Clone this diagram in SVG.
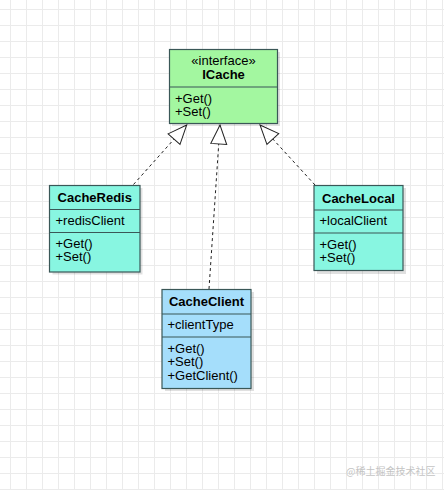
<svg xmlns="http://www.w3.org/2000/svg" width="444" height="490" viewBox="0 0 444 490">
<style>
.t{font-family:"Liberation Sans",Arial,sans-serif;font-size:13px;fill:#000}
.b{font-weight:bold;text-anchor:middle}
.c{text-anchor:middle}
.box{stroke:#3a5757;stroke-width:1.2}
.sh{fill:#000;opacity:0.12}
.div{stroke:#3a5757;stroke-width:1.2;fill:none}
.green{fill:#a3f7a0}
.cyan{fill:#88f6e1}
.blue{fill:#a5defb}
.conn{fill:none;stroke:#222;stroke-width:1;stroke-dasharray:3 3}
.wm{font-family:"Noto Sans CJK SC","Liberation Sans",sans-serif;font-size:10px;fill:#c4c4c4}
</style>
<defs>
<pattern id="grid" x="10" y="9" width="16" height="16" patternUnits="userSpaceOnUse">
<path d="M0 0.5H16M0.5 0V16" stroke="#ebebeb" stroke-width="1" fill="none"/>
</pattern>
<marker id="tri" markerUnits="userSpaceOnUse" markerWidth="22" markerHeight="20" viewBox="0 0 22 20" refX="20" refY="10" orient="auto">
<path d="M1 2L20 10L1 18Z" fill="#fff" stroke="#222" stroke-width="1" stroke-dasharray="none"/>
</marker>
</defs>
<rect width="444" height="490" fill="#fff"/>
<rect width="444" height="490" fill="url(#grid)"/>

<g id="connectors">
<path class="conn" d="M133.5 184.5L186.7 125" marker-end="url(#tri)"/>
<path class="conn" d="M209 289L220 125" marker-end="url(#tri)"/>
<path class="conn" d="M315 185L260 125" marker-end="url(#tri)"/>
</g>

<g id="ICache">
<rect class="sh" x="172" y="52" width="108" height="74"/>
<rect class="box green" x="169.5" y="49.5" width="108" height="74"/>
<line class="div" x1="169.5" y1="87" x2="277.5" y2="87"/>
<text class="t c" x="223.5" y="64.5">«interface»</text>
<text class="t b" x="223.5" y="79">ICache</text>
<text class="t" x="175" y="103">+Get()</text>
<text class="t" x="175" y="116">+Set()</text>
</g>

<g id="CacheRedis">
<rect class="sh" x="52.5" y="188" width="90" height="86.5"/>
<rect class="box cyan" x="49.5" y="185.5" width="90.5" height="86.5"/>
<line class="div" x1="49.5" y1="209.5" x2="140" y2="209.5"/>
<line class="div" x1="49.5" y1="232.5" x2="140" y2="232.5"/>
<text class="t b" x="94.75" y="202.3">CacheRedis</text>
<text class="t" x="55.5" y="224.5">+redisClient</text>
<text class="t" x="55.5" y="248.3">+Get()</text>
<text class="t" x="55.5" y="261.3">+Set()</text>
</g>

<g id="CacheLocal">
<rect class="sh" x="317" y="188" width="89" height="86"/>
<rect class="box cyan" x="314" y="185.5" width="89" height="85"/>
<line class="div" x1="314" y1="210" x2="403" y2="210"/>
<line class="div" x1="314" y1="233" x2="403" y2="233"/>
<text class="t b" x="358.5" y="202.8">CacheLocal</text>
<text class="t" x="319.5" y="225">+localClient</text>
<text class="t" x="319.5" y="248.5">+Get()</text>
<text class="t" x="319.5" y="261.5">+Set()</text>
</g>

<g id="CacheClient">
<rect class="sh" x="165" y="292" width="89" height="99"/>
<rect class="box blue" x="162" y="289.5" width="89" height="99"/>
<line class="div" x1="162" y1="314" x2="251" y2="314"/>
<line class="div" x1="162" y1="337" x2="251" y2="337"/>
<text class="t b" x="206.5" y="306.3">CacheClient</text>
<text class="t" x="167.5" y="329">+clientType</text>
<text class="t" x="167.5" y="352.5">+Get()</text>
<text class="t" x="167.5" y="366">+Set()</text>
<text class="t" x="167.5" y="379.5">+GetClient()</text>
</g>

<text class="wm" x="346" y="474.5">@稀土掘金技术社区</text>
</svg>
